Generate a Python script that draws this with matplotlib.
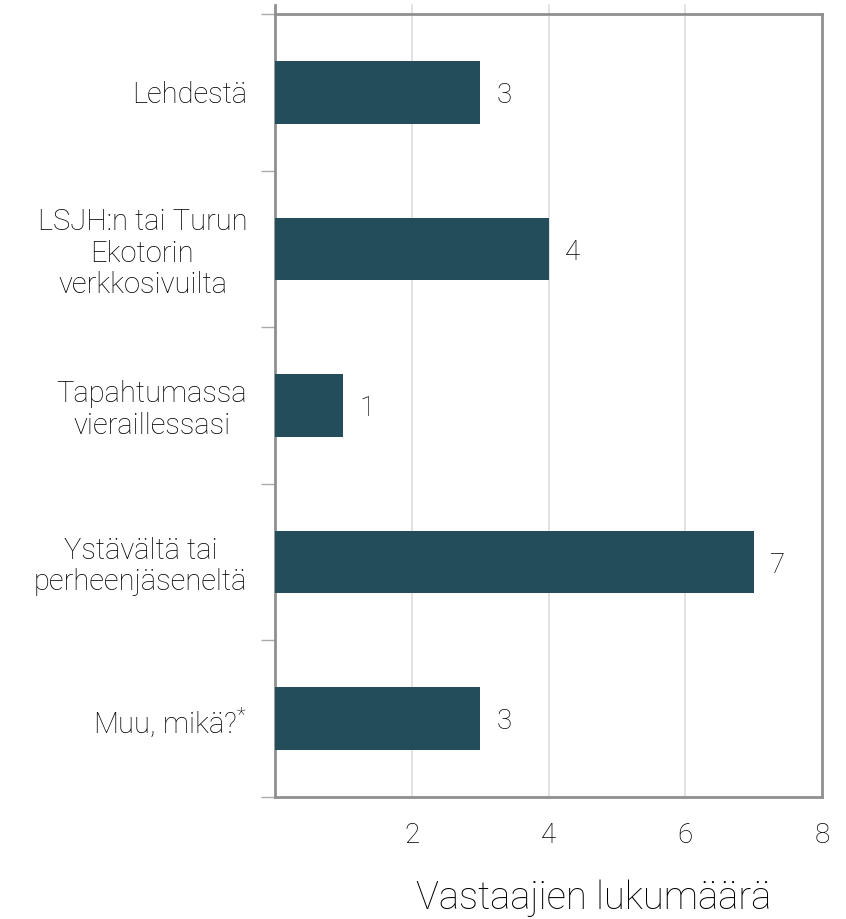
import matplotlib.pyplot as plt
import numpy as np

plt.rcParams['font.family'] = ['Roboto', 'DejaVu Sans']
plt.rcParams['font.weight'] = 'light'
plt.rcParams['axes.labelweight'] = 'light'
plt.rcParams['mathtext.default'] = 'regular'

categories = ["Lehdestä", "LSJH:n tai Turun\nEkotorin\nverkkosivuilta",
              "Tapahtumassa\nvieraillessasi", "Ystävältä tai\nperheenjäseneltä",
              "Muu, mikä?$^{*}$"]
values = [3, 4, 1, 7, 3]
x_ticks = [2, 4, 6, 8]

bar_color = "#234d5b"
spine_color = "#8f8f8f"
grid_color = "#dddddd"
text_color = "#000000"

fig = plt.figure(figsize=(8.46, 9.19), dpi=100)
ax = fig.add_axes([275 / 846, 1 - 797 / 919, (822 - 275) / 846, (797 - 14) / 919])

y = np.arange(len(categories))
ax.barh(y, values, height=0.4, color=bar_color, zorder=3)
for yi, v in zip(y, values):
    ax.text(v + 0.24, yi + 0.02, str(v), va="center", ha="left", fontsize=20,
            color=text_color, fontweight="light")

ax.set_xlim(0, 8)
ax.set_ylim(len(categories) - 0.5, -0.5)

ax.set_xticks(x_ticks)
ax.set_xticklabels([str(t) for t in x_ticks], fontsize=20, color=text_color)
ax.tick_params(axis="x", length=0, pad=18)
for t in x_ticks[:-1]:
    ax.axvline(t, color=grid_color, linewidth=1.2, zorder=1)
    ax.plot([t, t], [-0.5, -0.56], color=grid_color, linewidth=1.2,
            clip_on=False, zorder=1)
ax.plot([0, 0], [-0.5, -0.56], color=spine_color, linewidth=2,
        clip_on=False, zorder=1)

ax.set_yticks(y)
ax.set_yticklabels(categories, fontsize=21, color=text_color,
                   multialignment="center", linespacing=1.15)
ax.tick_params(axis="y", length=0, pad=20)
ax.set_yticks(np.arange(-0.5, len(categories)), minor=True)
ax.tick_params(axis="y", which="minor", length=10, width=1, color="#aaaaaa")

for s in ax.spines.values():
    s.set_color(spine_color)
    s.set_linewidth(2)

ax.set_xlabel("Vastaajien lukumäärä", fontsize=27.5, color=text_color,
              fontweight="light")
ax.xaxis.set_label_coords(0.583, -0.105)

fig.savefig("out.png", dpi=100)
